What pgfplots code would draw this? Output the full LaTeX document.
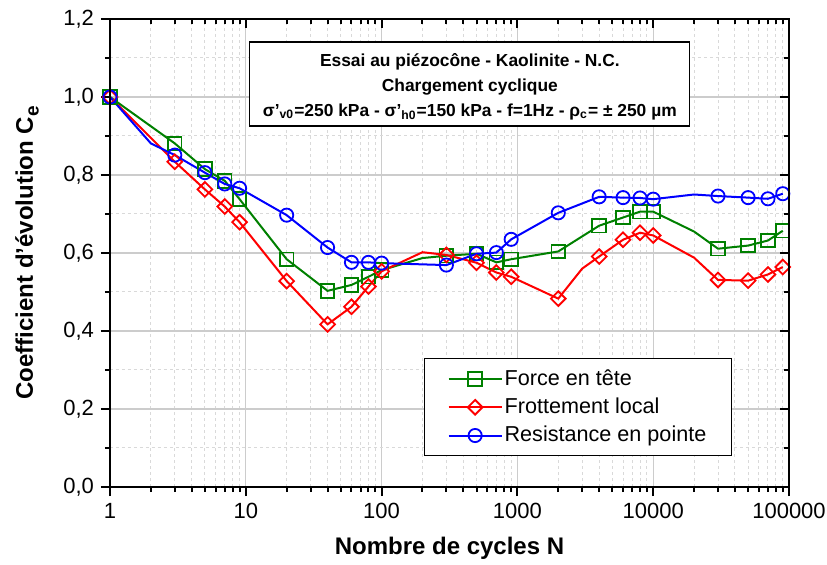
\documentclass[border=0pt]{standalone}
\usepackage{fontspec}
\setmainfont{Liberation Sans}
\usepackage{pgfplots}
\pgfplotsset{compat=1.18}
\definecolor{dgreen}{RGB}{0,128,0}
\begin{document}
\begin{tikzpicture}
\begin{axis}[width=339.5pt,height=234pt,scale only axis,xmode=log,
    xmin=1,xmax=100000,ymin=0,ymax=1.2,
    axis line style={line width=1.3pt},
    major tick length=4.5pt, minor tick length=2.5pt,
    every tick/.style={black,line width=1pt},
    xtick={1,10,100,1000,10000,100000},
    minor xtick={2,3,4,5,6,7,8,9,20,30,40,50,60,70,80,90,200,300,400,500,600,700,800,900,2000,3000,4000,5000,6000,7000,8000,9000,20000,30000,40000,50000,60000,70000,80000,90000},
    ytick={0,0.2,0.4,0.6,0.8,1.0,1.2},
    minor ytick={0.1,0.3,0.5,0.7,0.9,1.1},
  tick pos=left, tick align=outside, grid=both,
  major grid style={gray!40,line width=0.6pt},
  minor grid style={gray!30,line width=0.5pt,dash pattern=on 1.5pt off 1.5pt},
  xticklabels={1,10,100,1000,10000,100000},
  yticklabels={{0,0},{0,2},{0,4},{0,6},{0,8},{1,0},{1,2}},
  ticklabel style={font=\fontsize{11}{13}\selectfont},
  xlabel={Nombre de cycles N},
  ylabel={Coefficient d'évolution C\raisebox{-0.45ex}{\fontsize{9.5}{11}\selectfont e}},
  label style={font=\bfseries\fontsize{12}{14}\selectfont},
  xlabel style={at={(axis description cs:0.5,-0.1303)},anchor=center},
  ylabel style={at={(axis description cs:-0.1222,0.5)},anchor=center},
  legend style={at={(0.4625,0.2756)}, anchor=north west, draw=black, line width=0.6pt,
    font=\fontsize{10.8}{13}\selectfont, inner xsep=11.5pt, inner ysep=4.5pt, row sep=2.8pt,
    nodes={inner sep=1pt},
    cells={anchor=west}, /tikz/every even column/.append style={column sep=3.5pt}},
  legend image code/.code={\draw[mark indices={2}] plot coordinates {(0pt,0pt) (13.25pt,0pt) (26.5pt,0pt)};},
]
\addplot[dgreen, line width=1pt, mark=square, mark size=3.4pt,
  mark options={solid, fill=white, line width=0.9pt},
  mark indices={1,2,3,4,5,6,7,8,9,10,12,13,14,15,16,17,18,19,20,22,23,24,25}] coordinates {
(1,1.0) (3,0.881) (5,0.815) (7,0.785) (9,0.738) (20,0.584) (40,0.503) (60,0.518) (80,0.539) (100,0.556)
(200,0.587) (300,0.593) (500,0.598) (700,0.576) (900,0.584) (2000,0.604) (4000,0.670) (6000,0.691)
(8000,0.706) (10000,0.706) (20000,0.655) (30000,0.611) (50000,0.619) (70000,0.632) (90000,0.657)};
\addlegendentry{Force en tête}
\addplot[red, line width=1pt, mark=square, mark size=2.6pt,
  mark options={solid, fill=white, line width=0.9pt, rotate=45},
  mark indices={1,2,3,4,5,6,7,8,9,10,12,13,14,15,16,18,19,20,21,23,24,25,26}] coordinates {
(1,1.0) (3,0.834) (5,0.763) (7,0.719) (9,0.679) (20,0.528) (40,0.417) (60,0.462) (80,0.514) (100,0.553)
(200,0.602) (300,0.595) (500,0.575) (700,0.550) (900,0.539) (2000,0.483) (3000,0.560) (4000,0.591)
(6000,0.634) (8000,0.652) (10000,0.645) (20000,0.588) (30000,0.531) (50000,0.529) (70000,0.545) (90000,0.564)};
\addlegendentry{Frottement local}
\addplot[blue, line width=1pt, mark=o, mark size=3.3pt,
  mark options={solid, fill=white, line width=0.9pt},
  mark indices={1,3,4,5,6,7,8,9,10,11,12,13,14,15,16,17,18,19,20,22,23,24,25}] coordinates {
(1,1.0) (2,0.881) (3,0.851) (5,0.806) (7,0.777) (9,0.766) (20,0.697) (40,0.614) (60,0.576) (80,0.576)
(100,0.574) (300,0.569) (500,0.598) (700,0.601) (900,0.635) (2000,0.703) (4000,0.744) (6000,0.742)
(8000,0.741) (10000,0.738) (20000,0.750) (30000,0.746) (50000,0.742) (70000,0.739) (90000,0.752)};
\addlegendentry{Resistance en pointe}
\node[draw=black, line width=0.6pt, fill=white,
  minimum width=220pt, minimum height=42pt, inner sep=0pt]
  at (rel axis cs:0.530,0.861) {};
\node[align=center, font=\bfseries\fontsize{8.7}{12.6}\selectfont, inner sep=0pt]
  at (rel axis cs:0.530,0.861) [yshift=-1.3pt]
  {Essai au piézocône - Kaolinite - N.C.\\ Chargement cyclique\\
   σ'\textsubscript{v0}=250 kPa - σ'\textsubscript{h0}=150 kPa - f=1Hz - ρ\textsubscript{c}= ± 250 µm};
\coordinate (ll) at (rel axis cs:0,0);
\coordinate (ur) at (rel axis cs:1,1);
\end{axis}
\begin{axis}[width=339.5pt,height=234pt,scale only axis,xmode=log,
    xmin=1,xmax=100000,ymin=0,ymax=1.2,
    axis line style={line width=1.3pt},
    major tick length=4.5pt, minor tick length=2.5pt,
    every tick/.style={black,line width=1pt},
    xtick={1,10,100,1000,10000,100000},
    minor xtick={2,3,4,5,6,7,8,9,20,30,40,50,60,70,80,90,200,300,400,500,600,700,800,900,2000,3000,4000,5000,6000,7000,8000,9000,20000,30000,40000,50000,60000,70000,80000,90000},
    ytick={0,0.2,0.4,0.6,0.8,1.0,1.2},
    minor ytick={0.1,0.3,0.5,0.7,0.9,1.1},
    tick pos=right, tick align=inside,
    xticklabels={}, yticklabels={}]
\end{axis}
\pgfresetboundingbox
\path ([shift={(-55pt,-39pt)}]ll) rectangle ([shift={(19pt,9.5pt)}]ur);
\end{tikzpicture}
\end{document}
